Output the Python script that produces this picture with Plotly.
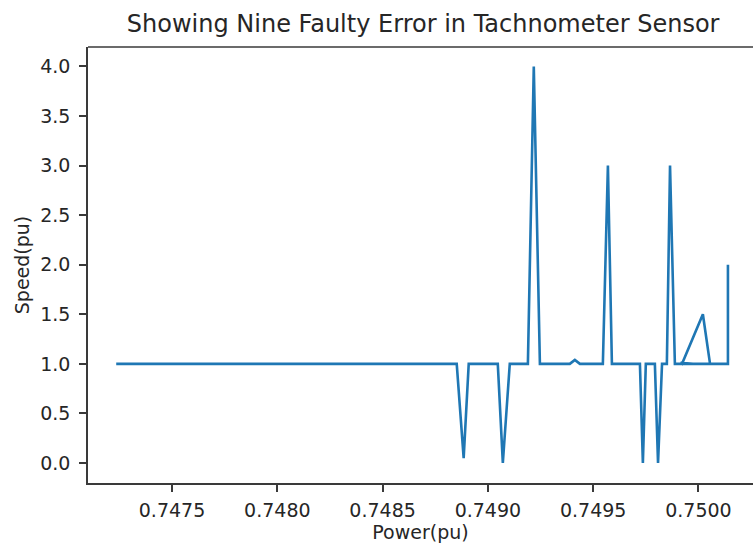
import plotly.graph_objects as go

# Power (pu) and speed (pu) in recorded order (the path doubles back near the end)
power = [0.747235, 0.748852, 0.748885, 0.748909, 0.749047, 0.749071, 0.749104,
         0.749190, 0.749218, 0.749247, 0.749389, 0.749413, 0.749437, 0.749546,
         0.749570, 0.749589, 0.749722, 0.749736, 0.749750, 0.749793, 0.749808,
         0.749827, 0.749850, 0.749865, 0.749888, 0.749974, 0.749915, 0.749922,
         0.750021, 0.750055, 0.749960, 0.750140, 0.750140]
speed = [1.0, 1.0, 0.05, 1.0, 1.0, 0.0, 1.0,
         1.0, 4.0, 1.0, 1.0, 1.04, 1.0, 1.0,
         3.0, 1.0, 1.0, 0.0, 1.0, 1.0, 0.0,
         1.0, 1.0, 3.0, 1.0, 1.0, 1.01, 1.0,
         1.5, 1.0, 1.0, 1.0, 2.0]

x_ticks = [0.7475, 0.7480, 0.7485, 0.7490, 0.7495, 0.7500]
x_labels = ["0.7475", "0.7480", "0.7485", "0.7490", "0.7495", "0.7500"]
y_ticks = [0.0, 0.5, 1.0, 1.5, 2.0, 2.5, 3.0, 3.5, 4.0]
y_labels = ["0.0", "0.5", "1.0", "1.5", "2.0", "2.5", "3.0", "3.5", "4.0"]

title_text = "Showing Nine Faulty Error in Tachnometer Sensor"
x_title = "Power(pu)"
y_title = "Speed(pu)"

FONT = "DejaVu Sans"
TXT = "#262626"
SPINE = "#3a3a3a"

fig = go.Figure()
fig.add_trace(go.Scatter(x=power, y=speed, mode="lines",
                         line=dict(color="#1f77b4", width=2.6),
                         hoverinfo="skip", showlegend=False))

fig.update_layout(
    width=753, height=548,
    margin=dict(l=88, r=0, t=47, b=65, pad=0),
    paper_bgcolor="white", plot_bgcolor="white",
    font=dict(family=FONT, size=19, color=TXT),
    title=dict(text=title_text, x=0.504, xanchor="center", xref="paper",
               y=1 - 24 / 548, yanchor="middle",
               font=dict(family=FONT, size=24, color=TXT)),
    xaxis=dict(range=[0.747101, 0.750259], tickvals=x_ticks, ticktext=x_labels,
               showgrid=False, zeroline=False, showline=True, linecolor=SPINE,
               linewidth=1.5, ticks="outside", ticklen=7, tickwidth=1.5,
               tickcolor=SPINE, ticklabelstandoff=2,
               tickfont=dict(family=FONT, size=19, color=TXT),
               title=dict(text=x_title, standoff=4,
                          font=dict(family=FONT, size=19, color=TXT))),
    yaxis=dict(range=[-0.2015, 4.196], tickvals=y_ticks, ticktext=y_labels,
               showgrid=False, zeroline=False, showline=True, linecolor=SPINE,
               linewidth=1.5, ticks="outside", ticklen=7, tickwidth=1.5,
               tickcolor=SPINE, ticklabelstandoff=5,
               tickfont=dict(family=FONT, size=19, color=TXT),
               title=dict(text=y_title, standoff=6,
                          font=dict(family=FONT, size=19, color=TXT))),
    shapes=[dict(type="line", xref="paper", yref="paper", x0=0, x1=1, y0=1, y1=1,
                 line=dict(color=SPINE, width=1.5))],
)

fig.write_html("out.html")
